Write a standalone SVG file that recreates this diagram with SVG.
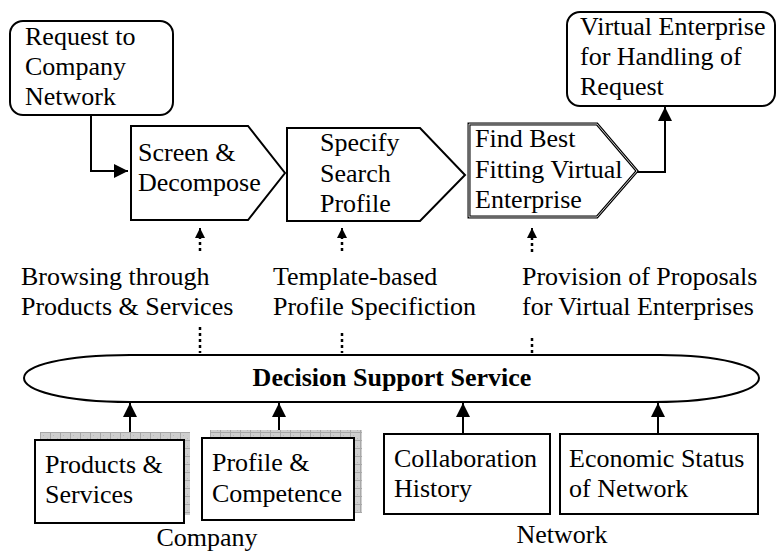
<svg xmlns="http://www.w3.org/2000/svg" width="777" height="554" viewBox="0 0 777 554">
<defs>
<style>
text{font-family:"Liberation Serif","Times New Roman",serif;font-size:26px;fill:#000}
.b{font-weight:bold}
.box{fill:#fff;stroke:#000;stroke-width:2}
.ln{fill:none;stroke:#000;stroke-width:2}
.dot{fill:none;stroke:#000;stroke-width:2.5;stroke-dasharray:3,3}
</style>
<marker id="ah" viewBox="0 0 10 10" refX="10" refY="5" markerWidth="15" markerHeight="14" markerUnits="userSpaceOnUse" orient="auto"><path d="M0,0L10,5L0,10Z" fill="#000"/></marker>
<marker id="ahs" viewBox="0 0 10 10" refX="10" refY="5" markerWidth="10" markerHeight="14" markerUnits="userSpaceOnUse" orient="auto"><path d="M0,0L10,5L0,10Z" fill="#000"/></marker>
<pattern id="hatch" width="10" height="8" patternUnits="userSpaceOnUse">
<rect width="10" height="8" fill="#cfcfcf"/>
<path d="M0,0.5H10M0.5,0V8" stroke="#a8a8a8" stroke-width="1"/>
<path d="M3,3h1v1h-1zM7,6h1v1h-1z" fill="#b8b8b8"/>
</pattern>
</defs>

<g id="connectors">
<path class="ln" d="M91,115V171H128" marker-end="url(#ah)"/>
<path class="ln" d="M637,172H665V107" marker-end="url(#ah)"/>
<path class="dot" d="M200,251V238"/>
<path class="ln" d="M200,239V228" marker-end="url(#ahs)"/>
<path class="dot" d="M342,251V238"/>
<path class="ln" d="M342,239V228" marker-end="url(#ahs)"/>
<path class="dot" d="M532,252V238"/>
<path class="ln" d="M532,239V228" marker-end="url(#ahs)"/>
<path class="dot" d="M200,327V353"/>
<path class="dot" d="M342,333V353"/>
<path class="dot" d="M532,338V353"/>
<path class="ln" d="M130,440V403" marker-end="url(#ah)"/>
<path class="ln" d="M279,438V403" marker-end="url(#ah)"/>
<path class="ln" d="M463,434V403" marker-end="url(#ah)"/>
<path class="ln" d="M658,434V403" marker-end="url(#ah)"/>
</g>

<g id="request">
<rect class="box" x="10" y="21" width="163" height="94" rx="13"/>
<text x="25" y="45">Request to</text>
<text x="25" y="75">Company</text>
<text x="25" y="105">Network</text>
</g>

<g id="screen">
<path class="box" d="M131,126H248L285,173L248,220H131Z"/>
<text x="138" y="161">Screen &amp;</text>
<text x="138" y="191">Decompose</text>
</g>

<g id="specify">
<path class="box" d="M287,128H420L465,175L420,221H287Z"/>
<text x="320" y="151">Specify</text>
<text x="320" y="182">Search</text>
<text x="320" y="212">Profile</text>
</g>

<g id="find">
<path d="M469,124H597L637,171L597,217H469Z" fill="#fff" stroke="#000" stroke-width="3"/>
<path d="M469,124H597L637,171L597,217H469Z" fill="none" stroke="#fff" stroke-width="0.8"/>
<text x="475" y="147">Find Best</text>
<text x="475" y="178">Fitting Virtual</text>
<text x="475" y="208">Enterprise</text>
</g>

<g id="virtual">
<rect class="box" x="567" y="12" width="208" height="94" rx="13"/>
<text x="580" y="35">Virtual Enterprise</text>
<text x="580" y="65">for Handling of</text>
<text x="580" y="95">Request</text>
</g>

<g id="labels">
<text x="21" y="285">Browsing through</text>
<text x="21" y="315">Products &amp; Services</text>
<text x="273" y="285">Template-based</text>
<text x="273" y="315">Profile Specifiction</text>
<text x="522" y="285">Provision of Proposals</text>
<text x="522" y="315">for Virtual Enterprises</text>
</g>

<g id="dss">
<path class="box" d="M130,355H660C720,355 759,366 759,378C759,390 720,402 655,402H130C62,402 24,390 24,378C24,366 62,355 130,355Z"/>
<text class="b" x="392" y="386" text-anchor="middle">Decision Support Service</text>
</g>

<g id="products">
<rect x="40" y="432" width="150" height="83" fill="url(#hatch)"/>
<rect class="box" x="35" y="440" width="149" height="83"/>
<text x="45" y="473">Products &amp;</text>
<text x="45" y="503">Services</text>
</g>

<g id="profile">
<rect x="210" y="430" width="152" height="83" fill="url(#hatch)"/>
<rect class="box" x="202" y="438" width="152" height="82"/>
<text x="212" y="471">Profile &amp;</text>
<text x="212" y="502">Competence</text>
</g>

<g id="collab">
<rect class="box" x="384" y="434" width="166" height="80"/>
<text x="394" y="467">Collaboration</text>
<text x="394" y="497">History</text>
</g>

<g id="economic">
<rect class="box" x="560" y="434" width="198" height="80"/>
<text x="569" y="467">Economic Status</text>
<text x="569" y="497">of Network</text>
</g>

<g id="groups">
<text x="207" y="546" text-anchor="middle">Company</text>
<text x="562" y="543" text-anchor="middle">Network</text>
</g>
</svg>
